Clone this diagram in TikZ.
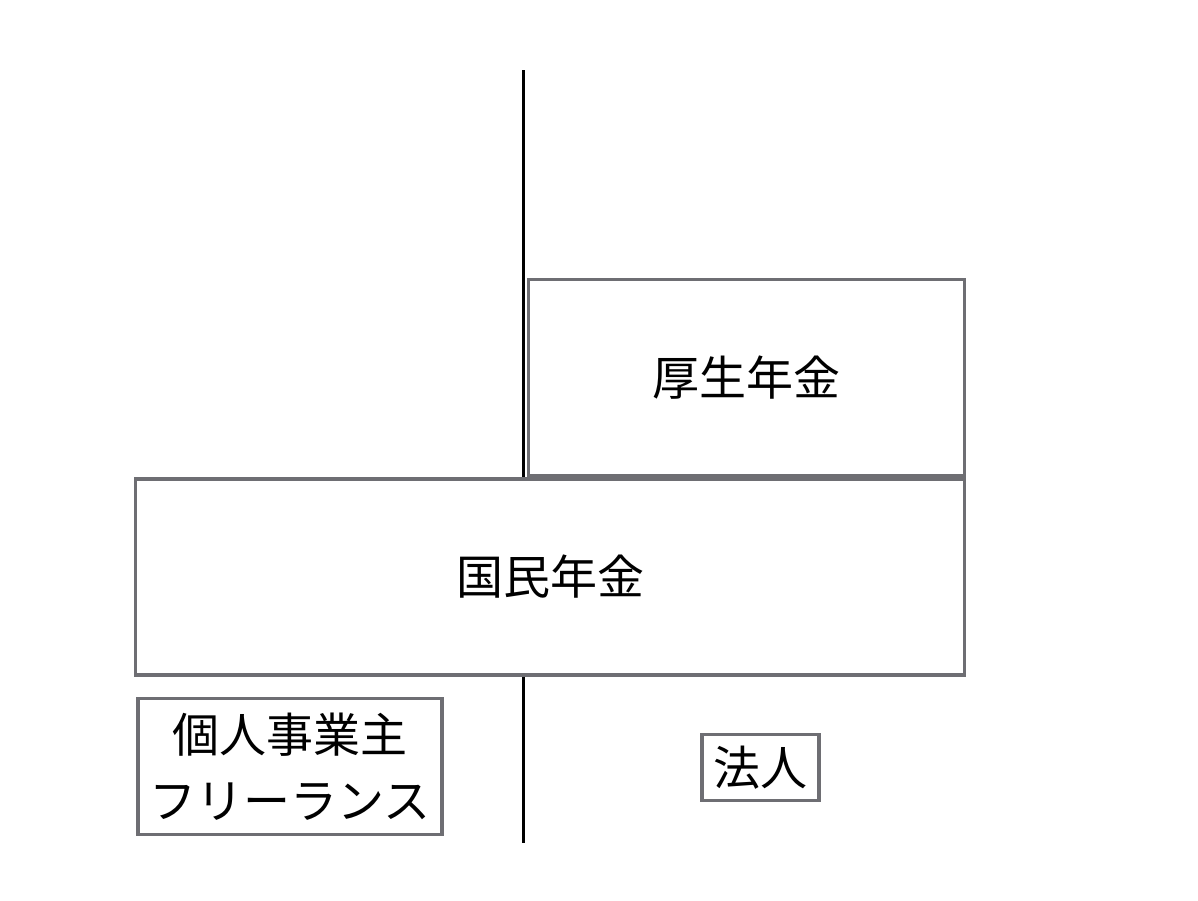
\documentclass[tikz,border=0pt]{standalone}
\usepackage{fontspec}
\newfontfamily\jp{Noto Sans CJK JP}
\definecolor{boxgray}{HTML}{6E6E73}
\begin{document}
\begin{tikzpicture}[x=1pt,y=-1pt,
  box/.style={draw=boxgray, line width=3.5pt, fill=white, inner sep=0pt, font=\jp\fontsize{47}{66}\selectfont, align=center},
  axis/.style={draw=black, line width=3pt}]
\useasboundingbox (0,0) rectangle (1198,900);
\coordinate (top) at (523,70);
\coordinate (bot) at (523,843);
\node[box, minimum width=436pt, minimum height=196pt] (kosei) at (746.5,377.5) {厚生年金};
\node[box, minimum width=829pt, minimum height=196pt] (kokumin) at (550,577) {国民年金};
\node[box, minimum width=304pt, minimum height=136pt] (kojin) at (290,766.5) {個人事業主\\フリーランス};
\node[box, minimum width=117pt, minimum height=66pt] (hojin) at (760.5,767.5) {法人};
\draw[axis] (top) -- (kokumin.north -| top);
\draw[axis] (kokumin.south -| bot) -- (bot);
\end{tikzpicture}
\end{document}
